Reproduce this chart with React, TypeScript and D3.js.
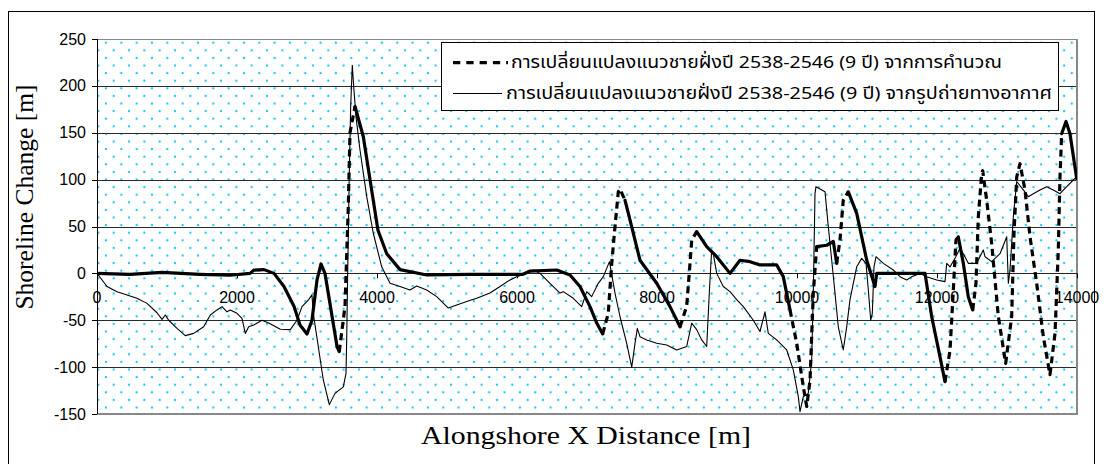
import React from 'react';
import * as d3 from 'd3';

// ---------------- DATA ----------------
// Calculated shoreline change (thick dashed series): [alongshore x (m), change (m)]
const calcSeries: [number, number][] = [
  [0, 0], [471, -1], [929, 1], [1471, -1], [1900, -2], [2186, 0], [2243, 3.5], [2386, 4],
  [2529, 0], [2671, -14], [2814, -35], [2900, -55], [3000, -64.6], [3071, -50], [3143, -7],
  [3200, 10], [3257, 0], [3429, -78], [3461, -83.5], [3543, -35], [3590, 71], [3614, 150],
  [3686, 178], [3804, 146], [3900, 100], [4014, 46], [4139, 21], [4329, 4], [4710, -1.7],
  [5329, -1], [6086, -1], [6186, 2.5], [6567, 3.6], [6757, -1.7], [6900, -14], [7043, -35.5],
  [7139, -53], [7224, -64.6], [7304, -42.6], [7353, 10.7], [7400, 50], [7447, 87], [7471, 90],
  [7543, 78], [7614, 57], [7757, 14], [7996, -10.6], [8186, -35.5], [8329, -57], [8424, -35],
  [8461, 0], [8496, 35.6], [8567, 44.5], [8710, 28.5], [8853, 17.8], [9043, 0], [9186, 14],
  [9329, 12.5], [9471, 9], [9710, 9], [9804, -3.5], [9900, -39], [9996, -74.6], [10090, -121],
  [10139, -142], [10186, -114], [10233, -21], [10281, 28.5], [10424, 30], [10519, 34],
  [10567, 10.7], [10614, 35.6], [10661, 78], [10733, 87], [10853, 64], [10996, 14],
  [11114, -14], [11139, 0], [11829, 0], [11924, -46], [12043, -89], [12114, -115.5],
  [12186, -82], [12233, -18], [12271, 35.6], [12304, 39], [12376, 10.7], [12447, -25],
  [12510, -39], [12557, -10.6], [12590, 60], [12639, 107], [12653, 109.5], [12710, 78],
  [12781, 32], [12876, -46], [12981, -96], [13067, -46], [13100, 42.7], [13139, 103],
  [13186, 117], [13257, 89], [13329, 39], [13424, -10.6], [13519, -67.5], [13614, -108],
  [13686, -64], [13733, 25], [13757, 103], [13781, 149], [13843, 162], [13900, 149],
  [13996, 101],
];

// Shoreline change from aerial photographs (thin solid series)
const photoSeries: [number, number][] = [
  [0, 0], [143, -14], [286, -19.5], [429, -23], [571, -26.6], [714, -32], [857, -42],
  [929, -49], [976, -44.4], [1024, -50], [1143, -58.6], [1261, -66.4], [1381, -64],
  [1524, -57], [1619, -44.4], [1714, -39], [1786, -35.5], [1857, -41], [1904, -39],
  [2000, -42.6], [2071, -48], [2119, -64], [2167, -57], [2239, -55], [2357, -50],
  [2453, -53], [2619, -59.6], [2761, -60], [2857, -50], [2929, -35.5], [3024, -28],
  [3071, -23], [3090, -42.6], [3161, -78], [3233, -113.7], [3319, -140], [3400, -128],
  [3519, -121], [3557, -106.6], [3567, -71], [3581, 0], [3604, 107], [3624, 178],
  [3647, 222], [3671, 195.6], [3700, 167], [3757, 131.6], [3853, 81.8], [3947, 42.8],
  [4067, 7], [4186, -10.6], [4329, -14], [4471, -17.7], [4567, -13.4], [4710, -17.7],
  [4853, -24.8], [5019, -37], [5139, -33.7], [5281, -30], [5424, -26.6], [5614, -21],
  [5757, -14], [5900, -7], [5996, -3.5], [6139, 0], [6233, 3.6], [6329, 0], [6471, -10.6],
  [6614, -21], [6661, -19.5], [6804, -26.6], [6924, -35.5], [6996, -19.5], [7067, -24.8],
  [7161, -10.6], [7233, -3.5], [7321, 12.5], [7400, -21], [7471, -46], [7567, -74.6],
  [7639, -100], [7686, -74.6], [7719, -58.6], [7757, -67.5], [7853, -71], [7996, -74.6],
  [8139, -76.4], [8281, -81.7], [8424, -78], [8496, -53], [8567, -60], [8639, -71],
  [8710, -78], [8747, -21], [8781, 25], [8804, 21], [8853, 0], [8947, -14], [9043, -19.5],
  [9139, -28], [9233, -35.5], [9376, -50], [9471, -62], [9543, -41], [9590, -64],
  [9710, -71], [9853, -81.7], [9947, -103], [10019, -131.5], [10043, -147.5],
  [10090, -131.5], [10161, -128], [10210, -92], [10233, -21], [10257, 85], [10271, 92.5],
  [10400, 87], [10447, 50], [10496, 14], [10543, -21], [10557, -32], [10590, -57],
  [10661, -81.7], [10710, -57], [10757, -28], [10853, 7], [10924, 16], [10986, 10.7],
  [11019, -17.7], [11053, -50], [11076, -42.6], [11100, 7], [11129, 17.8], [11233, 10.7],
  [11376, 3.6], [11471, -3.5], [11567, -7], [11639, -3.5], [11757, 0], [11853, -3.5],
  [11996, -7], [12114, -8.8], [12139, 10.7], [12186, 7], [12257, 16], [12329, 26.7],
  [12376, 21], [12447, 10.7], [12567, 10.7], [12661, 25], [12686, 17.8], [12781, 12.5],
  [12900, 21], [12996, 39], [13019, -10.6], [13043, 3.6], [13090, 60], [13139, 98],
  [13233, 89], [13304, 81.8], [13376, 85], [13471, 89], [13567, 92.5], [13661, 89],
  [13757, 85], [13853, 92.5], [13947, 99.6], [13996, 103],
];

const xTicks = [0, 2000, 4000, 6000, 8000, 10000, 12000, 14000];
const yTicks = [-150, -100, -50, 0, 50, 100, 150, 200, 250];
const legendLabels = [
  'การเปลี่ยนแปลงแนวชายฝั่งปี 2538-2546 (9 ปี) จากการคำนวณ',
  'การเปลี่ยนแปลงแนวชายฝั่งปี 2538-2546 (9 ปี) จากรูปถ่ายทางอากาศ',
];
const xTitle = 'Alongshore X Distance [m]';
const yTitle = 'Shoreline Change [m]';

// ---------------- STYLE / LAYOUT ----------------
const W = 1105;
const H = 464;
const PL = 97, PR = 1077, PT = 39, PB = 414;
// x-ranges where the calculated line renders as visible dashes (Excel dash restart artefact)
const DASHED_SPANS: [number, number][] = [
  [3461, 3686], [7224, 7543], [8329, 8567], [9900, 10281], [10567, 10733],
  [12114, 12304], [12510, 13800],
];
const SANS = "'Liberation Sans', Arial, 'Noto Sans', sans-serif";
const SERIF = "'Liberation Serif', 'Times New Roman', serif";
const THAI = "Tahoma, 'Noto Sans Thai', Loma, Garuda, 'Liberation Sans', Arial, sans-serif";

export default function App() {
  const x = d3.scaleLinear().domain([0, 14000]).range([PL, PR]);
  const y = d3.scaleLinear().domain([-150, 250]).range([PB, PT]);
  const line = d3.line<[number, number]>().x((d) => x(d[0])).y((d) => y(d[1]));

  // split calculated series into solid / dashed runs
  const runs: { dashed: boolean; pts: [number, number][] }[] = [];
  for (let i = 0; i < calcSeries.length - 1; i++) {
    const a = calcSeries[i], b = calcSeries[i + 1];
    const mid = (a[0] + b[0]) / 2;
    const dashed = DASHED_SPANS.some(([s, e]) => mid >= s && mid <= e);
    const last = runs[runs.length - 1];
    if (last && last.dashed === dashed) last.pts.push(b);
    else runs.push({ dashed, pts: [a, b] });
  }

  return (
    <svg width={W} height={H} style={{ position: 'absolute', left: 0, top: 0, background: '#fff' }}>
      <defs>
        <pattern id="dots" patternUnits="userSpaceOnUse" x={102.2} y={38.9} width={15.33} height={15.2}>
          <circle cx={3.8} cy={3.8} r={1.2} fill="#1ec6ff" />
          <circle cx={11.47} cy={11.4} r={1.2} fill="#1ec6ff" />
        </pattern>
        <clipPath id="plotclip">
          <rect x={PL} y={PT - 2} width={PR - PL} height={PB - PT + 4} />
        </clipPath>
      </defs>
      {/* outer frame */}
      <rect x={8.5} y={11.5} width={1086} height={470} fill="#fff" stroke="#000" strokeWidth={1} />
      {/* plot area */}
      <rect x={PL} y={PT} width={PR - PL} height={PB - PT} fill="#fff" />
      <rect x={PL} y={PT} width={PR - PL} height={PB - PT} fill="url(#dots)" />
      {/* gridlines */}
      {yTicks.map((t) => (
        <line key={'g' + t} x1={PL} x2={PR} y1={Math.round(y(t)) + 0.5} y2={Math.round(y(t)) + 0.5} stroke="#2a2a2a" strokeWidth={1} />
      ))}
      {/* plot border (right & bottom grey) */}
      <line x1={PR} x2={PR} y1={PT} y2={PB + 1} stroke="#888" strokeWidth={2} />
      <line x1={PL} x2={PR + 1} y1={PB} y2={PB} stroke="#888" strokeWidth={2} />
      <line x1={PL} x2={PR} y1={PT + 0.5} y2={PT + 0.5} stroke="#888" strokeWidth={1} />
      {/* y axis */}
      <line x1={PL + 0.5} x2={PL + 0.5} y1={PT} y2={PB} stroke="#000" strokeWidth={1} />
      {yTicks.map((t) => (
        <g key={'y' + t}>
          <line x1={PL - 5} x2={PL} y1={Math.round(y(t)) + 0.5} y2={Math.round(y(t)) + 0.5} stroke="#000" />
          <text x={86} y={y(t) + 5.5} textAnchor="end" fontFamily={SANS} fontSize={16} fill="#000">{t}</text>
        </g>
      ))}
      {/* x axis at zero */}
      <line x1={PL} x2={PR} y1={Math.round(y(0)) + 0.5} y2={Math.round(y(0)) + 0.5} stroke="#222" strokeWidth={1} />
      {xTicks.map((t) => (
        <g key={'x' + t}>
          <line x1={Math.round(x(t)) + 0.5} x2={Math.round(x(t)) + 0.5} y1={y(0)} y2={y(0) + 5} stroke="#000" />
          <text x={x(t)} y={y(0) + 30} textAnchor="middle" fontFamily={SANS} fontSize={16} fill="#000">{t}</text>
        </g>
      ))}
      {/* series */}
      <g clipPath="url(#plotclip)">
        <path d={line(photoSeries) || ''} fill="none" stroke="#000" strokeWidth={1.1} strokeLinejoin="round" />
        {runs.map((r, i) => (
          <path
            key={'c' + i}
            d={line(r.pts) || ''}
            fill="none"
            stroke="#000"
            strokeWidth={3.2}
            strokeDasharray={r.dashed ? '7,4.5' : undefined}
            strokeLinejoin="round"
            strokeLinecap={r.dashed ? 'butt' : 'round'}
          />
        ))}
      </g>
      {/* legend */}
      <rect x={441.5} y={42.5} width={617} height={68} fill="#fff" stroke="#000" strokeWidth={1} />
      <line x1={453} x2={508} y1={62.7} y2={62.7} stroke="#000" strokeWidth={3.2} strokeDasharray="7.3,6" />
      <text x={511} y={67.5} fontFamily={THAI} fontSize={17} textLength={491} lengthAdjust="spacingAndGlyphs" fill="#000">{legendLabels[0]}</text>
      <line x1={453} x2={502} y1={93.5} y2={93.5} stroke="#000" strokeWidth={1.1} />
      <text x={506} y={99} fontFamily={THAI} fontSize={17} textLength={546} lengthAdjust="spacingAndGlyphs" fill="#000">{legendLabels[1]}</text>
      {/* axis titles */}
      <text x={586} y={444} textAnchor="middle" fontFamily={SERIF} fontSize={26} textLength={330} lengthAdjust="spacingAndGlyphs" fill="#000">{xTitle}</text>
      <text transform={`translate(33,197) rotate(-90)`} textAnchor="middle" fontFamily={SERIF} fontSize={25.5} fill="#000">{yTitle}</text>
    </svg>
  );
}
